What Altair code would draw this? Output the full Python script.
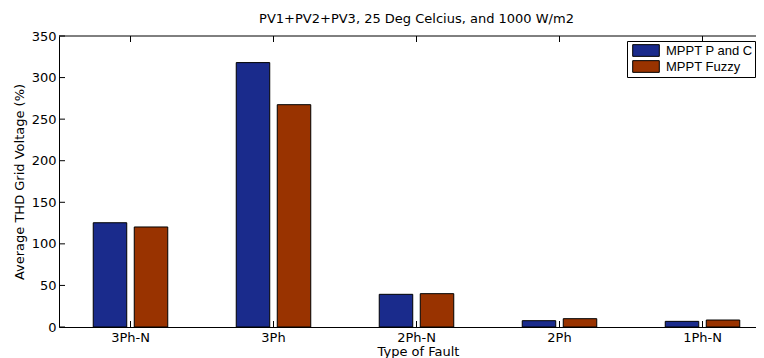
import altair as alt
import pandas as pd

# ---- data ----
faults = ["3Ph-N", "3Ph", "2Ph-N", "2Ph", "1Ph-N"]
series = ["MPPT P and C", "MPPT Fuzzy"]
thd_pc = [125.4, 318.0, 39.3, 7.6, 6.8]
thd_fuzzy = [120.3, 267.4, 40.1, 10.0, 8.4]
y_ticks = [0, 50, 100, 150, 200, 250, 300, 350]
colors = ["#1a2b8c", "#993300"]

rows = []
for f, a, b in zip(faults, thd_pc, thd_fuzzy):
    rows.append({"fault": f, "series": series[0], "value": a})
    rows.append({"fault": f, "series": series[1], "value": b})
df = pd.DataFrame(rows)
tick_df = pd.DataFrame({"fault": faults})
ytick_df = pd.DataFrame({"v": y_ticks})
one_df = pd.DataFrame({"k": [0]})

W, H = 715, 291
FONT = "DejaVu Sans"
LEG_FONT = "Liberation Sans"

xscale = alt.Scale(domain=faults, paddingInner=0, paddingOuter=0)
yscale = alt.Scale(domain=[0, 350], nice=False)

xaxis = alt.Axis(title="Type of Fault", labelAngle=0, labelPadding=4, titlePadding=1,
                 ticks=False, domain=True, grid=False, titleX=359)
yaxis = alt.Axis(title="Average THD Grid Voltage (%)", values=y_ticks, labelPadding=3,
                 titlePadding=5, ticks=False, domain=True, grid=False)

bars = alt.Chart(df).mark_bar(stroke="black", strokeWidth=1, opacity=1).encode(
    x=alt.X("fault:N", sort=faults, scale=xscale, axis=xaxis),
    xOffset=alt.XOffset("series:N", sort=series,
                        scale=alt.Scale(paddingInner=0.183, paddingOuter=0.835)),
    y=alt.Y("value:Q", scale=yscale, axis=yaxis),
    color=alt.Color("series:N", sort=series,
                    scale=alt.Scale(domain=series, range=colors),
                    legend=alt.Legend(orient="none", legendX=568, legendY=5, title=None,
                                      strokeColor="black", fillColor="white", padding=2,
                                      symbolType="M-2,-0.88H2V0.88H-2Z", symbolSize=177,
                                      symbolOffset=9.5,
                                      symbolStrokeColor="black", symbolStrokeWidth=1,
                                      symbolOpacity=1, labelFont=LEG_FONT, labelFontSize=13,
                                      labelColor="black", labelOffset=12.5, rowPadding=-3,
                                      cornerRadius=0)),
)

ytick_rules = alt.Chart(ytick_df).mark_rule(color="black", strokeWidth=1).encode(
    y=alt.Y("v:Q", scale=yscale, axis=yaxis),
    x=alt.value(0), x2=alt.value(6),
)
top_ticks = alt.Chart(tick_df).mark_rule(color="black", strokeWidth=1).encode(
    x=alt.X("fault:N", sort=faults, scale=xscale, axis=xaxis),
    y=alt.value(0), y2=alt.value(6),
)
bottom_ticks = alt.Chart(tick_df).mark_rule(color="black", strokeWidth=1).encode(
    x=alt.X("fault:N", sort=faults, scale=xscale, axis=xaxis),
    y=alt.value(H - 6), y2=alt.value(H),
)
top_frame = alt.Chart(one_df).mark_rule(color="black", strokeWidth=1).encode(
    x=alt.value(0), x2=alt.value(W), y=alt.value(0),
)

chart = alt.layer(ytick_rules, top_ticks, bottom_ticks, bars, top_frame).properties(
    width=W, height=H,
    title=alt.Title("PV1+PV2+PV3, 25 Deg Celcius, and 1000 W/m2", font=FONT, fontSize=13,
                    fontWeight="normal", color="black", anchor="middle", offset=4),
    autosize=alt.AutoSizeParams(type="none"),
    padding={"left": 51, "top": 28, "right": -18, "bottom": 31},
).configure_view(stroke=None).configure_axis(
    labelFont=FONT, titleFont=FONT, labelFontSize=13, titleFontSize=13,
    labelColor="black", titleColor="black", domainColor="black", titleFontWeight="normal",
)

chart.save("out.html", embed_options={"renderer": "svg", "actions": False})
